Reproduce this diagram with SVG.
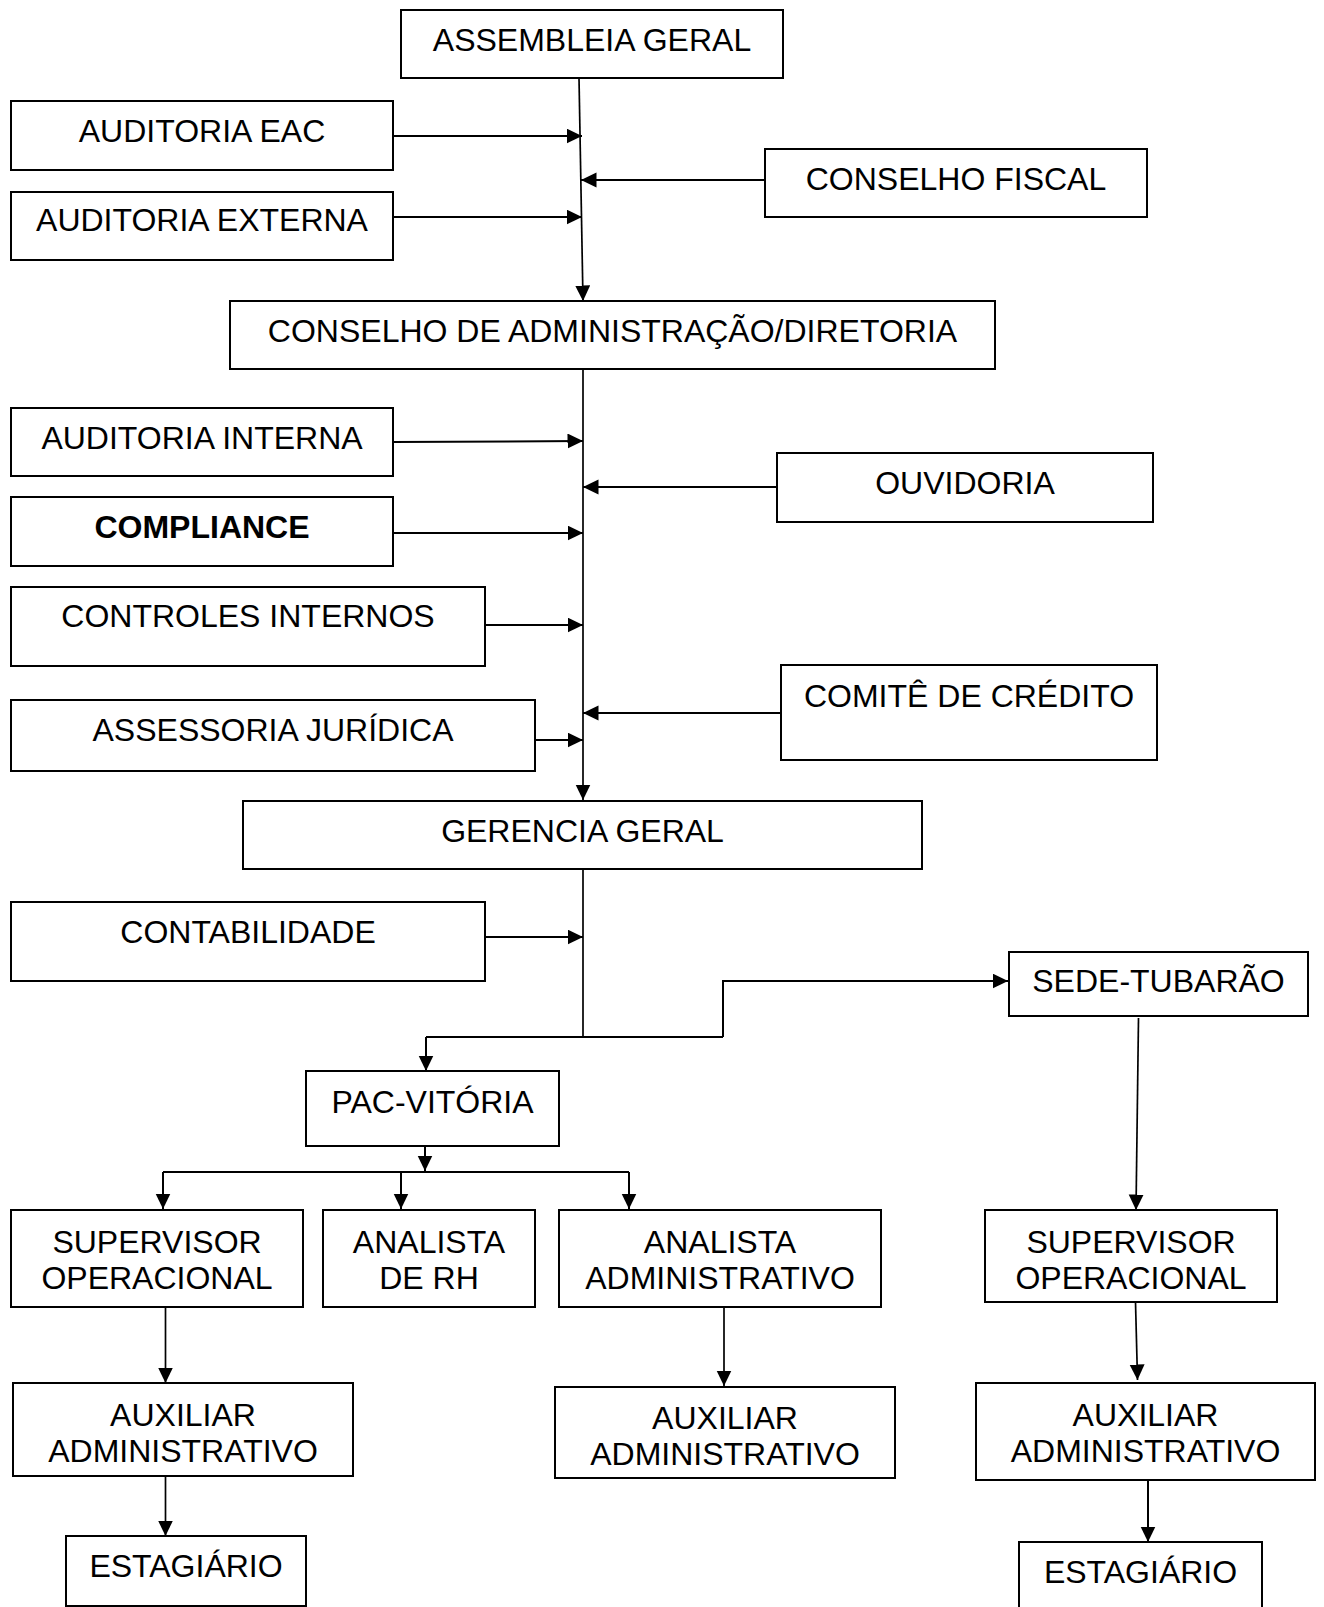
<svg xmlns="http://www.w3.org/2000/svg" width="1324" height="1607" viewBox="0 0 1324 1607">
<defs>
<marker id="arr" markerUnits="userSpaceOnUse" markerWidth="17" markerHeight="17" refX="15.5" refY="7.5" orient="auto">
<path d="M0,0 L15.5,7.5 L0,15 z" fill="#000"/>
</marker>
<style>
.box{fill:#fff;stroke:#000;stroke-width:2}
.t{font-family:"Liberation Sans",Arial,sans-serif;font-size:32px;fill:#000;text-anchor:middle}
.b{font-weight:bold}
.c{fill:none;stroke:#000;stroke-width:2}
.v{fill:none;stroke:#000;stroke-width:1.7}
.a{marker-end:url(#arr)}
</style>
</defs>
<rect width="1324" height="1607" fill="#fff"/>
<g id="connectors">
<path class="v a" d="M579,78 L583,301"/>
<path class="c a" d="M393,136 L582,136"/>
<path class="c a" d="M393,217 L582,217"/>
<path class="c a" d="M765,180 L581,180"/>
<path class="v a" d="M583,369 L583,800"/>
<path class="c a" d="M393,442 L583,441"/>
<path class="c a" d="M777,487 L583,487"/>
<path class="c a" d="M393,533 L583,533"/>
<path class="c a" d="M485,625 L583,625"/>
<path class="c a" d="M781,713 L583,713"/>
<path class="c a" d="M535,740 L583,740"/>
<path class="v" d="M583,869 L583,1037"/>
<path class="c a" d="M485,937 L583,937"/>
<path class="c" d="M426,1037 L723,1037"/>
<path class="c a" d="M723,1037 L723,981 L1008,981"/>
<path class="c a" d="M426,1037 L426,1071"/>
<path class="v a" d="M1138.5,1018 L1136,1210"/>
<path class="c a" d="M425,1146 L425,1171"/>
<path class="c" d="M163,1172 L629,1172"/>
<path class="c a" d="M163,1172 L163,1209"/>
<path class="c a" d="M401,1172 L401,1209"/>
<path class="c a" d="M629,1172 L629,1209"/>
<path class="v a" d="M165.5,1307 L165.5,1383"/>
<path class="v a" d="M165.5,1476 L165.5,1536"/>
<path class="v a" d="M724,1307 L724,1386"/>
<path class="v a" d="M1135.5,1302 L1137.5,1380"/>
<path class="c a" d="M1148,1480 L1148,1542"/>
</g>
<g id="assembleia"><rect class="box" x="401" y="10" width="382" height="68"/><text class="t" x="592" y="51">ASSEMBLEIA GERAL</text></g>
<g id="auditoria-eac"><rect class="box" x="11" y="101" width="382" height="69"/><text class="t" x="202" y="142">AUDITORIA EAC</text></g>
<g id="auditoria-externa"><rect class="box" x="11" y="192" width="382" height="68"/><text class="t" x="202" y="231">AUDITORIA EXTERNA</text></g>
<g id="conselho-fiscal"><rect class="box" x="765" y="149" width="382" height="68"/><text class="t" x="956" y="190">CONSELHO FISCAL</text></g>
<g id="conselho-adm"><rect class="box" x="230" y="301" width="765" height="68"/><text class="t" x="612.5" y="342">CONSELHO DE ADMINISTRAÇÃO/DIRETORIA</text></g>
<g id="auditoria-interna"><rect class="box" x="11" y="408" width="382" height="68"/><text class="t" x="202" y="449">AUDITORIA INTERNA</text></g>
<g id="compliance"><rect class="box" x="11" y="497" width="382" height="69"/><text class="t b" x="202" y="538">COMPLIANCE</text></g>
<g id="controles"><rect class="box" x="11" y="587" width="474" height="79"/><text class="t" x="248" y="627">CONTROLES INTERNOS</text></g>
<g id="assessoria"><rect class="box" x="11" y="700" width="524" height="71"/><text class="t" x="273" y="741">ASSESSORIA JURÍDICA</text></g>
<g id="ouvidoria"><rect class="box" x="777" y="453" width="376" height="69"/><text class="t" x="965" y="494">OUVIDORIA</text></g>
<g id="comite"><rect class="box" x="781" y="665" width="376" height="95"/><text class="t" x="969" y="707">COMITÊ DE CRÉDITO</text></g>
<g id="gerencia"><rect class="box" x="243" y="801" width="679" height="68"/><text class="t" x="582.5" y="842">GERENCIA GERAL</text></g>
<g id="contabilidade"><rect class="box" x="11" y="902" width="474" height="79"/><text class="t" x="248" y="943">CONTABILIDADE</text></g>
<g id="sede"><rect class="box" x="1009" y="952" width="299" height="64"/><text class="t" x="1158.5" y="992">SEDE-TUBARÃO</text></g>
<g id="pac"><rect class="box" x="306" y="1071" width="253" height="75"/><text class="t" x="432.5" y="1113">PAC-VITÓRIA</text></g>
<g id="sup-left"><rect class="box" x="11" y="1210" width="292" height="97"/><text class="t" x="157" y="1253">SUPERVISOR</text><text class="t" x="157" y="1289">OPERACIONAL</text></g>
<g id="analista-rh"><rect class="box" x="323" y="1210" width="212" height="97"/><text class="t" x="429" y="1253">ANALISTA</text><text class="t" x="429" y="1289">DE RH</text></g>
<g id="analista-adm"><rect class="box" x="559" y="1210" width="322" height="97"/><text class="t" x="720" y="1253">ANALISTA</text><text class="t" x="720" y="1289">ADMINISTRATIVO</text></g>
<g id="sup-right"><rect class="box" x="985" y="1210" width="292" height="92"/><text class="t" x="1131" y="1253">SUPERVISOR</text><text class="t" x="1131" y="1289">OPERACIONAL</text></g>
<g id="aux-left"><rect class="box" x="13" y="1383" width="340" height="93"/><text class="t" x="183" y="1426">AUXILIAR</text><text class="t" x="183" y="1462">ADMINISTRATIVO</text></g>
<g id="aux-mid"><rect class="box" x="555" y="1387" width="340" height="91"/><text class="t" x="725" y="1429">AUXILIAR</text><text class="t" x="725" y="1465">ADMINISTRATIVO</text></g>
<g id="aux-right"><rect class="box" x="976" y="1383" width="339" height="97"/><text class="t" x="1145.5" y="1426">AUXILIAR</text><text class="t" x="1145.5" y="1462">ADMINISTRATIVO</text></g>
<g id="est-left"><rect class="box" x="66" y="1536" width="240" height="70"/><text class="t" x="186" y="1577">ESTAGIÁRIO</text></g>
<g id="est-right"><rect class="box" x="1019" y="1542" width="243" height="75"/><text class="t" x="1140.5" y="1583">ESTAGIÁRIO</text></g>
</svg>
